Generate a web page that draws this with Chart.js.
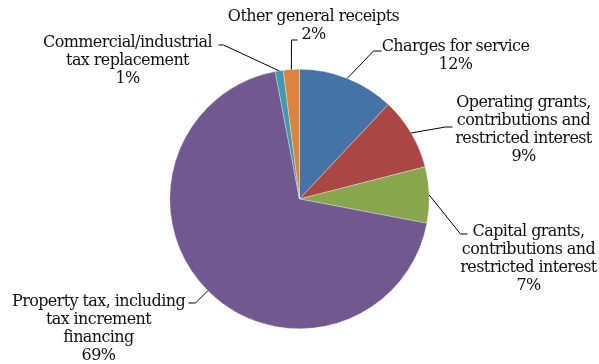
<!DOCTYPE html>
<html>
<head>
<meta charset="utf-8">
<script src="https://cdn.jsdelivr.net/npm/chart.js@4/dist/chart.umd.min.js"></script>
<style>
html,body{margin:0;padding:0;background:#fff;}
#wrap{position:relative;width:599px;height:364px;}
</style>
</head>
<body>
<div id="wrap"><canvas id="c" width="599" height="364"></canvas></div>
<script>
const categories = [
  "Charges for service",
  "Operating grants, contributions and restricted interest",
  "Capital grants, contributions and restricted interest",
  "Property tax, including tax increment financing",
  "Commercial/industrial tax replacement",
  "Other general receipts"
];
const labelLines = [
  ["Charges for service"],
  ["Operating grants,", "contributions and", "restricted interest"],
  ["Capital grants,", "contributions and", "restricted interest"],
  ["Property tax, including", "tax increment", "financing"],
  ["Commercial/industrial", "tax replacement"],
  ["Other general receipts"]
];
const percentValues = [12, 9, 7, 69, 1, 2];
const sliceColors = ["#4572A7", "#AA4643", "#89A54E", "#71588F", "#4198AF", "#DB843D"];

// label placement (layout only), relative to the pie centre
const labelLayout = [
  {elbow:[74,-148], end:[82,-148], textX:156, textY:-152},
  {elbow:[146,-72], end:[153,-72], textX:224, textY:-96},
  {elbow:[161,35], end:[168,35], textX:229, textY:33},
  {elbow:[-104,104], end:[-111,104], textX:-201, textY:103},
  {elbow:[-76,-154], end:[-81,-154], textX:-172, textY:-156},
  {elbow:[-8,-159], end:[-2,-159], textX:14, textY:-182}
];

const labelPlugin = {
  id: 'pieLabels',
  afterDraw(chart) {
    const ctx = chart.ctx;
    const meta = chart.getDatasetMeta(0);
    ctx.save();
    ctx.font = '16px "DejaVu Serif"';
    ctx.letterSpacing = '-0.6px';
    ctx.fillStyle = '#111';
    ctx.strokeStyle = '#000';
    ctx.lineWidth = 1;
    ctx.textAlign = 'center';
    ctx.textBaseline = 'middle';
    meta.data.forEach((arc, i) => {
      const p = arc.getProps(['x','y','startAngle','endAngle','outerRadius'], true);
      const mid = (p.startAngle + p.endAngle) / 2;
      const sx = p.x + Math.cos(mid) * p.outerRadius;
      const sy = p.y + Math.sin(mid) * p.outerRadius;
      const L = labelLayout[i];
      ctx.beginPath();
      ctx.moveTo(sx, sy);
      ctx.lineTo(p.x + L.elbow[0], p.y + L.elbow[1]);
      ctx.lineTo(p.x + L.end[0], p.y + L.end[1]);
      ctx.stroke();
      const lines = labelLines[i].concat([percentValues[i] + '%']);
      lines.forEach((t, k) => {
        ctx.fillText(t, p.x + L.textX, p.y + L.textY + k * 18);
      });
    });
    ctx.restore();
  }
};

new Chart(document.getElementById('c'), {
  type: 'pie',
  data: {
    labels: categories,
    datasets: [{
      data: percentValues,
      backgroundColor: sliceColors,
      borderColor: 'rgba(255,255,255,0.5)',
      borderWidth: 0.6
    }]
  },
  options: {
    responsive: false,
    animation: false,
    layout: { padding: { top: 69, bottom: 35, left: 0, right: 0 } },
    plugins: { legend: { display: false }, tooltip: { enabled: false } }
  },
  plugins: [labelPlugin]
});
</script>
</body>
</html>
